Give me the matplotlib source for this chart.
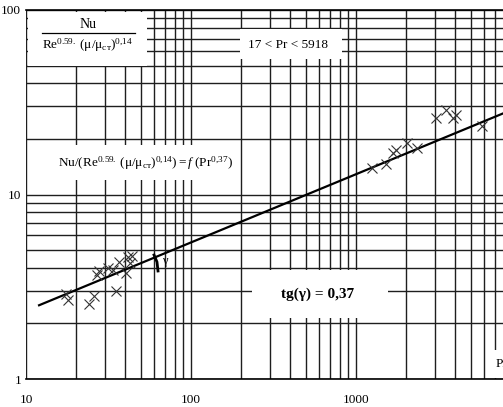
import matplotlib
matplotlib.use("Agg")
import matplotlib.pyplot as plt
from matplotlib.patches import Rectangle
from matplotlib.ticker import NullFormatter, FixedLocator
from matplotlib.lines import Line2D

plt.rcParams['font.family'] = ['Liberation Serif', 'DejaVu Serif']
plt.rcParams['mathtext.fontset'] = 'custom'
plt.rcParams['mathtext.rm'] = 'Liberation Serif'
plt.rcParams['mathtext.it'] = 'Liberation Serif:italic'
plt.rcParams['mathtext.bf'] = 'Liberation Serif:bold'

# measured points (Pr, Nu/(Re^0.59 (mu/mu_st)^0.14))
pr_low = [17.5, 18.0, 24.1, 25.8, 26.9, 27.7, 31.4, 33.7, 35.1, 36.6, 40.4, 41.5, 43.9, 42.6]
nu_low = [2.89, 2.68, 2.55, 2.82, 3.66, 3.85, 4.0, 3.9, 3.0, 4.3, 3.76, 4.58, 4.64, 4.26]
pr_high = [1250, 1520, 1675, 1746, 2036, 2342, 3055, 3510, 3870, 4035, 5800]
nu_high = [13.9, 14.6, 16.8, 17.4, 19.0, 17.9, 26.0, 28.7, 26.0, 27.0, 23.5]

# fitted line (slope 0.37 in log-log)
fit_pr = [12, 7780]
fit_nu = [2.51, 27.5]

xticks = [10, 100, 1000]
yticks = [1, 10, 100]

W, H = 503, 407
fig = plt.figure(figsize=(W / 100, H / 100), dpi=100)
ax = fig.add_axes([26 / W, 28 / H, 477 / W, 369 / H])


def fp(x, y):
    return x / W, 1 - y / H


def white_box(x0, y0, x1, y1):
    r = Rectangle(fp(x0, y1), (x1 - x0) / W, (y1 - y0) / H, transform=fig.transFigure,
                  facecolor='white', edgecolor='none', zorder=1)
    ax.add_patch(r)


ax.set_xscale('log')
ax.set_yscale('log')
ax.set_xlim(10, 7780)
ax.set_ylim(1, 100)

ax.set_axisbelow(True)
ax.grid(True, which='both', color='#1e1e1e', lw=1.0)
ax.xaxis.set_major_locator(FixedLocator(xticks))
ax.yaxis.set_major_locator(FixedLocator(yticks))
ax.set_xticklabels([str(t) for t in xticks])
ax.set_yticklabels([str(t) for t in yticks])
ax.xaxis.set_minor_formatter(NullFormatter())
ax.yaxis.set_minor_formatter(NullFormatter())
ax.tick_params(which='both', length=0, labelsize=9.5)
ax.tick_params(axis='x', pad=11)
ax.tick_params(axis='y', pad=3.5)
for s in ['left', 'right']:
    ax.spines[s].set_visible(False)
ax.spines['bottom'].set_linewidth(1.2)
ax.spines['top'].set_linewidth(1.2)

ax.plot(fit_pr, fit_nu, color='black', lw=1.6, zorder=3)
ax.plot(pr_low + pr_high, nu_low + nu_high, ls='none', marker='x', ms=6.5,
        mew=0.8, color='#333333', zorder=4)

# angle mark
ax.plot([59.7, 62.2, 63.1], [4.70, 4.31, 3.85], color='black', lw=2, zorder=4)
ax.text(66.5, 4.35, 'γ', fontsize=9, va='center', ha='left', zorder=5)

# white boxes over the grid
white_box(28, 12, 147, 66)
white_box(240, 29, 342, 59)
white_box(40, 145, 236, 180)
white_box(252, 270, 388, 318)
white_box(492, 350, 503, 378)

# fraction label
fig.text(*fp(88, 25), 'Nu', ha='center', va='center', fontsize=10, zorder=6)
fig.add_artist(Line2D([42 / W, 135 / W], [1 - 33 / H, 1 - 33 / H], color='black', lw=0.9))
fig.text(*fp(88, 45), r'$\mathrm{Re}^{\mathit{0.59.}}\ (\mathrm{μ/μ}_{\mathrm{ст}})^{\mathrm{0{,}14}}$',
         ha='center', va='center', fontsize=9.5)

fig.text(*fp(288, 45), '17 < Pr < 5918', ha='center', va='center', fontsize=9.5)
fig.text(*fp(146, 163),
         r'$\mathrm{Nu/(Re}^{\mathit{0.59.}}\ (\mathrm{μ/μ}_{\mathrm{ст}})^{\mathrm{0{,}14}})'
         r' = \mathit{f}\ (\mathrm{Pr}^{\mathrm{0{,}37}})$',
         ha='center', va='center', fontsize=9.5)
fig.text(*fp(318, 294), 'tg(γ) = 0,37', ha='center', va='center', fontsize=11,
         fontweight='bold')
fig.text(*fp(496, 364), 'Pr', ha='left', va='center', fontsize=9.5)

fig.savefig('out.png', dpi=100)
